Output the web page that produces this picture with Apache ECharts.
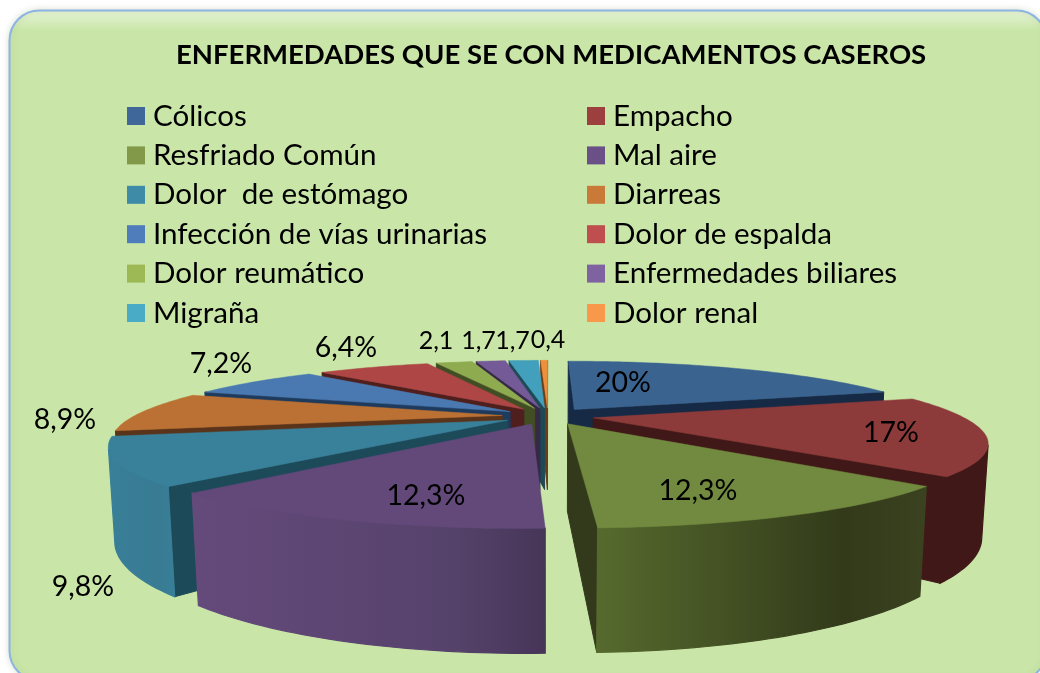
<!DOCTYPE html>
<html>
<head>
<meta charset="utf-8">
<style>
  html, body { margin: 0; padding: 0; background: #fff; overflow: hidden; }
  #chart { width: 1040px; height: 673px; }
</style>
</head>
<body>
<div id="chart"></div>
<script src="https://cdn.jsdelivr.net/npm/echarts@6/dist/echarts.min.js"></script>
<script>
const titleText = 'ENFERMEDADES QUE SE CON MEDICAMENTOS CASEROS'
const categories = ['Cólicos', 'Empacho', 'Resfriado Común', 'Mal aire', 'Dolor  de estómago', 'Diarreas',
  'Infección de vías urinarias', 'Dolor de espalda', 'Dolor reumático', 'Enfermedades biliares', 'Migraña', 'Dolor renal']
const values = [20, 17, 12.3, 12.3, 9.8, 8.9, 7.2, 6.4, 2.1, 1.7, 1.7, 0.4]
const valueLabels = ['20%', '17%', '12,3%', '12,3%', '9,8%', '8,9%', '7,2%', '6,4%', '2,1', '1,7', '1,7', '0,4']

// colours per slice
const legendColors = ['#3f6799', '#9b3f3f', '#82994a', '#6a5086', '#3d8ba6', '#c97a39', '#4f7cba', '#bf4f4e', '#9db955', '#7f63a1', '#4aabc7', '#f7984a']
const topColors = ['#3a638f', '#8d3a3a', '#728a3f', '#62497a', '#39809a', '#bb7133', '#4a78b0', '#ad4644', '#8fab50', '#745a96', '#42a0bd', '#ee8f3f']
const sideColors = ['#172a45', '#3f1817', '#333a1c', '#3f3050', '#1d4a59', '#59331a', '#1e3a5c', '#4f1f1e', '#414e24', '#352945', '#1e4a57', '#6b3f1a']
const wallStops = {
  1: ['#3f1817', '#3f1817', '#3f1817'],
  2: ['#566a2e', '#323a1a', '#3a4220'],
  3: ['#654a7c', '#55426a', '#473558'],
  4: ['#397f98', '#387b93', '#397f98']
}

// label centres in the picture, and their font sizes
const labelPos = [[623, 383], [891, 433], [698, 491], [426, 496], [83, 587], [65, 420], [221, 364], [346, 348], [436, 341], [478.5, 341], [512.5, 341], [548, 340]]
const labelSize = [28.5, 28.5, 28.5, 28.5, 28.5, 28.5, 28.5, 28.5, 25, 25, 25, 25]

// the pie as a solid seen through a camera
const CX = 548, CY = 416, R = 368, EXPLODE = 46, HEIGHT = 87
const DIST = 1190, TILT = 10.4 * Math.PI / 180
const cosT = Math.cos(TILT), sinT = Math.sin(TILT)
const camera = [0, DIST * sinT, -DIST * cosT]

const total = values.reduce((a, b) => a + b, 0)
const startAngles = []
values.reduce((acc, v, i) => { startAngles[i] = acc; return acc + v }, 0)

function project(x, y, z) {
  const k = DIST / (DIST + z * cosT - y * sinT)
  return [CX + x * k, CY - (y * cosT + z * sinT) * k]
}

function faces(nx, nz, px, pz) {
  return nx * (camera[0] - px) + nz * (camera[2] - pz) > 0
}

function renderSlice(index, value) {
  const a0 = startAngles[index] / total * Math.PI * 2
  const a1 = a0 + value / total * Math.PI * 2
  const mid = (a0 + a1) / 2
  const ax = EXPLODE * Math.sin(mid), az = EXPLODE * Math.cos(mid)
  const steps = Math.max(4, Math.ceil((a1 - a0) / 0.02))
  const rim = []
  for (let i = 0; i <= steps; i++) {
    const a = a0 + (a1 - a0) * i / steps
    rim.push({ a, x: ax + R * Math.sin(a), z: az + R * Math.cos(a) })
  }
  const first = rim[0], last = rim[steps]
  const children = []
  const side = (p) => ({
    type: 'polygon',
    shape: { points: [project(ax, 0, az), project(p.x, 0, p.z), project(p.x, -HEIGHT, p.z), project(ax, -HEIGHT, az)] },
    style: { fill: sideColors[index], stroke: sideColors[index], lineWidth: 1 }
  })
  if (faces(-Math.cos(a0), Math.sin(a0), ax, az)) children.push(side(first))
  if (faces(Math.cos(a1), -Math.sin(a1), ax, az)) children.push(side(last))

  // rim wall, only the part turned to the camera
  const seen = rim.filter(p => faces(Math.sin(p.a), Math.cos(p.a), p.x, p.z))
  if (seen.length > 1) {
    const pts = seen.map(p => project(p.x, 0, p.z)).concat(seen.slice().reverse().map(p => project(p.x, -HEIGHT, p.z)))
    const st = wallStops[index] || [sideColors[index], sideColors[index], sideColors[index]]
    const wallFill = new echarts.graphic.LinearGradient(0, 0, 1, 0, [
      { offset: 0, color: st[0] }, { offset: 0.75, color: st[1] }, { offset: 1, color: st[2] }
    ])
    children.push({
      type: 'polygon',
      shape: { points: pts },
      style: { fill: wallFill, stroke: wallFill, lineWidth: 1.2 }
    })
  }

  children.push({
    type: 'polygon',
    shape: { points: [project(ax, 0, az)].concat(rim.map(p => project(p.x, 0, p.z))) },
    style: { fill: topColors[index], stroke: topColors[index], lineWidth: 0.5 }
  })
  return { type: 'group', children }
}

// back slices get painted first
const drawRank = values.map((v, i) => {
  const mid = (startAngles[i] + v / 2) / total * Math.PI * 2
  return { i, back: Math.cos(mid) }
}).sort((a, b) => b.back - a.back).map(d => d.i)

const series = categories.map((name, i) => ({
  name,
  type: 'custom',
  coordinateSystem: 'none',
  z: 2 + drawRank.indexOf(i),
  animation: false,
  silent: true,
  itemStyle: { color: legendColors[i] },
  data: [[values[i]]],
  renderItem: (params, api) => renderSlice(i, api.value(0))
}))

series.push({
  type: 'custom',
  coordinateSystem: 'none',
  z: 30,
  animation: false,
  silent: true,
  data: valueLabels.map((t, i) => [i]),
  renderItem: (params, api) => {
    const i = api.value(0)
    return {
      type: 'text',
      x: labelPos[i][0],
      y: labelPos[i][1],
      style: {
        text: valueLabels[i],
        fill: '#000',
        font: labelSize[i] + 'px Lato',
        align: 'center',
        verticalAlign: 'middle'
      }
    }
  }
})

const legendBase = {
  orient: 'vertical',
  top: 96,
  icon: 'rect',
  itemWidth: 18,
  itemHeight: 18,
  itemGap: 9.4,
  selectedMode: false,
  textStyle: { fontFamily: 'Lato', fontSize: 29.6, color: '#000', padding: [0, 0, 0, 3] }
}

const option = {
  backgroundColor: '#fff',
  animation: false,
  title: {
    text: titleText,
    left: 171,
    top: 36,
    textStyle: { fontFamily: 'Lato', fontWeight: 'bold', fontSize: 27.5, color: '#000' }
  },
  legend: [
    Object.assign({}, legendBase, { left: 122, data: categories.filter((c, i) => i % 2 === 0) }),
    Object.assign({}, legendBase, { left: 582, data: categories.filter((c, i) => i % 2 === 1) })
  ],
  graphic: [{
    type: 'rect',
    z: -1,
    shape: { x: 9.5, y: 10.5, width: 1037, height: 670, r: 30 },
    style: {
      fill: new echarts.graphic.LinearGradient(0, 0, 0, 1, [
        { offset: 0, color: '#e4f2d4' },
        { offset: 0.012, color: '#dcefc6' },
        { offset: 0.032, color: '#c9e6a8' },
        { offset: 1, color: '#c9e6a8' }
      ]),
      stroke: '#8db3e2',
      lineWidth: 2,
      shadowBlur: 6,
      shadowColor: 'rgba(120,150,100,0.25)'
    }
  }],
  series
}

const myChart = echarts.init(document.getElementById('chart'), null, { renderer: 'canvas' })
myChart.setOption(option)
window.addEventListener('resize', myChart.resize)
</script>
</body>
</html>
